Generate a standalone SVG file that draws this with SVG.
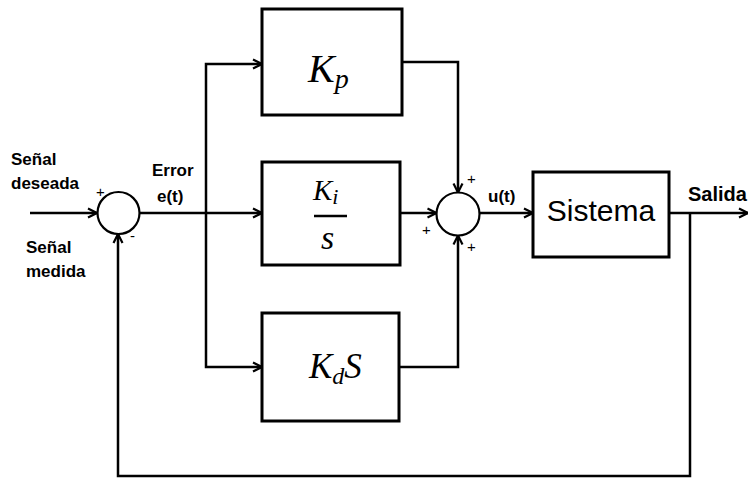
<svg xmlns="http://www.w3.org/2000/svg" width="748" height="479" viewBox="0 0 748 479">
<style>
.box{fill:#fff;stroke:#000;stroke-width:3}
.sum{fill:#fff;stroke:#000;stroke-width:2.2}
.wire{fill:none;stroke:#000;stroke-width:2.5}
.arr{marker-end:url(#ah)}
.lbl{font-family:"Liberation Sans",Arial,sans-serif;font-weight:bold;font-size:17px;fill:#000}
.sgn{font-family:"Liberation Sans",Arial,sans-serif;font-size:15px;fill:#000}
.math{font-family:"Liberation Serif","Times New Roman",serif;font-style:italic;fill:#000}
</style>
<defs>
<marker id="ah" markerUnits="userSpaceOnUse" markerWidth="12" markerHeight="12" viewBox="0 0 12 12" refX="11" refY="6" orient="auto">
<path d="M2,1.5 L11,6 L2,10.5" fill="none" stroke="#000" stroke-width="2.2"/>
</marker>
</defs>
<g id="connectors">
<path class="wire arr" d="M30,213 H97"/>
<path class="wire arr" d="M140,213 H262"/>
<path class="wire arr" d="M206,213 V64 H262"/>
<path class="wire arr" d="M206,213 V367 H262"/>
<path class="wire arr" d="M402,62 H458 V192.5"/>
<path class="wire arr" d="M400,213 H436.5"/>
<path class="wire arr" d="M399,367 H458 V235.5"/>
<path class="wire arr" d="M479.5,213 H533"/>
<path class="wire arr" d="M669,213 H748"/>
<path class="wire arr" d="M690,213 V476 H118 V234"/>
</g>
<g id="sum1">
<circle class="sum" cx="118.5" cy="213" r="21"/>
<text class="sgn" x="96" y="197">+</text>
<text class="sgn" x="130" y="241">-</text>
</g>
<g id="sum2">
<circle class="sum" cx="458" cy="214" r="21.5"/>
<text class="sgn" x="467" y="184">+</text>
<text class="sgn" x="422" y="235">+</text>
<text class="sgn" x="467" y="252">+</text>
</g>
<g id="kp">
<rect class="box" x="262" y="9" width="140" height="106"/>
<text class="math" x="308" y="82" font-size="40">K<tspan font-size="28" dy="6">p</tspan></text>
</g>
<g id="ki">
<rect class="box" x="262" y="162" width="138" height="103"/>
<text class="math" x="313" y="200" font-size="29">K<tspan font-size="22" dy="4">i</tspan></text>
<line x1="314" y1="216" x2="347" y2="216" stroke="#000" stroke-width="2.5"/>
<text class="math" x="321" y="249" font-size="34">s</text>
</g>
<g id="kd">
<rect class="box" x="262" y="313" width="137" height="108"/>
<text class="math" x="309" y="378" font-size="35">K<tspan font-size="24" dy="6">d</tspan><tspan font-size="35" dy="-6">S</tspan></text>
</g>
<g id="sistema">
<rect class="box" x="533" y="172" width="136" height="85"/>
<text x="601" y="221" text-anchor="middle" font-family="Liberation Sans,Arial,sans-serif" font-size="30">Sistema</text>
</g>
<g id="labels">
<text class="lbl" x="11" y="165">Señal</text>
<text class="lbl" x="11" y="189">deseada</text>
<text class="lbl" x="26" y="253">Señal</text>
<text class="lbl" x="26" y="277">medida</text>
<text class="lbl" x="152" y="176">Error</text>
<text class="lbl" x="157" y="202">e(t)</text>
<text class="lbl" x="488" y="202">u(t)</text>
<text class="lbl" x="688" y="201" style="font-size:20px">Salida</text>
</g>
</svg>
